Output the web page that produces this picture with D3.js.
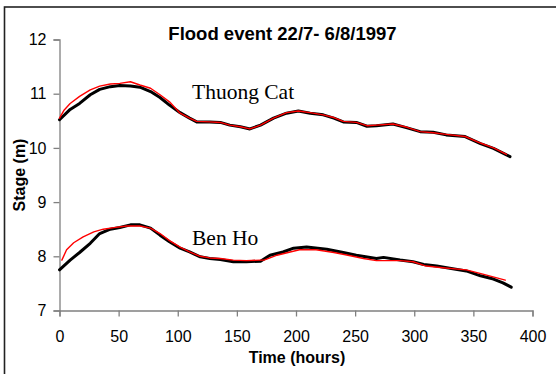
<!DOCTYPE html>
<html>
<head>
<meta charset="utf-8">
<script src="https://cdn.jsdelivr.net/npm/d3@7"></script>
<style>
  html, body { margin: 0; padding: 0; background: #fff; }
  svg { display: block; }
  text { font-family: Arial, "Liberation Sans", sans-serif; fill: #000; }
</style>
</head>
<body>
<div id="chart"></div>
<script>
// ---- data ----
const title = "Flood event 22/7- 6/8/1997";
const xTicks = [0, 50, 100, 150, 200, 250, 300, 350, 400];
const yTicks = [7, 8, 9, 10, 11, 12];
const stationLabels = ["Thuong Cat", "Ben Ho"];

const tcObsHours = [0,9,17,26,34,43,51,60,68,77,85,93,102,110,116,127,136,144,153,161,170,181,192,202,212,223,232,240,251,260,268,282,294,305,316,327,343,356,367,378,381];
const tcObserved = [10.52,10.71,10.82,10.98,11.08,11.13,11.15,11.14,11.12,11.04,10.93,10.79,10.65,10.55,10.48,10.48,10.47,10.42,10.39,10.35,10.42,10.55,10.64,10.68,10.64,10.61,10.55,10.48,10.47,10.40,10.41,10.44,10.37,10.30,10.29,10.24,10.21,10.08,9.99,9.87,9.84];

const tcSimHours = [0,4,9,17,26,34,43,51,60,68,77,85,93,102,110,116,127,136,144,153,161,170,181,192,202,212,223,232,240,251,260,268,282,294,305,316,327,343,356,367,378];
const tcSimulated = [10.55,10.70,10.82,10.95,11.07,11.14,11.18,11.19,11.22,11.16,11.10,10.98,10.85,10.64,10.55,10.49,10.48,10.47,10.42,10.39,10.35,10.42,10.55,10.65,10.68,10.65,10.61,10.56,10.49,10.47,10.41,10.42,10.44,10.38,10.30,10.28,10.25,10.21,10.09,10.00,9.88];

const bhObsHours = [0,9,17,26,34,43,51,60,68,77,85,93,102,110,119,127,136,147,158,170,178,189,198,209,226,240,251,268,274,288,299,308,319,330,344,356,367,375,382];
const bhObserved = [7.75,7.93,8.07,8.24,8.42,8.50,8.53,8.58,8.58,8.52,8.39,8.27,8.15,8.08,7.99,7.96,7.94,7.90,7.90,7.91,8.02,8.08,8.15,8.17,8.13,8.07,8.02,7.96,7.98,7.93,7.90,7.85,7.82,7.78,7.73,7.64,7.58,7.51,7.43];

const bhSimHours = [2,6,12,20,29,37,46,57,68,77,85,93,102,110,119,127,136,147,158,170,173,184,195,203,217,232,246,257,268,288,299,310,324,344,358,377];
const bhSimulated = [7.93,8.12,8.25,8.36,8.45,8.50,8.53,8.56,8.56,8.52,8.42,8.29,8.17,8.08,8.00,7.97,7.96,7.93,7.92,7.93,7.93,8.02,8.08,8.12,8.12,8.07,8.01,7.96,7.92,7.92,7.90,7.82,7.79,7.75,7.67,7.56];

// ---- layout ----
const W = 556, H = 374;
const svg = d3.select("#chart").append("svg").attr("width", W).attr("height", H);

svg.append("rect").attr("x", 4.5).attr("y", 7).attr("width", 580).attr("height", 400)
  .attr("fill", "none").attr("stroke", "#222").attr("stroke-width", 1.6);

const x = d3.scaleLinear().domain([0, 400]).range([59.5, 532.5]);
const y = d3.scaleLinear().domain([7, 12]).range([310.5, 39.5]);

const axisColor = "#808080";

const gx = svg.append("g").attr("transform", `translate(0,${y(7)})`)
  .call(d3.axisBottom(x).tickValues(xTicks).tickSize(6).tickPadding(14).tickFormat(d3.format("d")));
const gy = svg.append("g").attr("transform", `translate(${x(0)},0)`)
  .call(d3.axisLeft(y).tickValues(yTicks).tickSize(6).tickPadding(7).tickFormat(d3.format("d")));
[gx, gy].forEach(g => {
  g.select(".domain").attr("stroke", axisColor).attr("stroke-width", 1.3);
  g.selectAll(".tick line").attr("stroke", axisColor).attr("stroke-width", 1.3);
  g.selectAll(".tick text").attr("fill", "#000").style("font-size", "16px")
    .style("font-family", "Arial, 'Liberation Sans', sans-serif");
});

// series
const line = d3.line().x(d => x(d[0])).y(d => y(d[1]));
const zip = (a, b) => a.map((v, i) => [v, b[i]]);

const series = [
  { data: zip(tcObsHours, tcObserved), color: "#000", width: 3 },
  { data: zip(bhObsHours, bhObserved), color: "#000", width: 3 },
  { data: zip(tcSimHours, tcSimulated), color: "#ff0000", width: 1.4 },
  { data: zip(bhSimHours, bhSimulated), color: "#ff0000", width: 1.4 }
];
svg.append("g").selectAll("path").data(series).join("path")
  .attr("d", d => line(d.data))
  .attr("fill", "none")
  .attr("stroke", d => d.color)
  .attr("stroke-width", d => d.width)
  .attr("stroke-linejoin", "round")
  .attr("stroke-linecap", "round");

// titles
svg.append("text").attr("x", 282.5).attr("y", 40).attr("text-anchor", "middle")
  .style("font-size", "18.5px").style("font-weight", "bold").text(title);

svg.append("text").attr("x", x(200) + 1).attr("y", 363).attr("text-anchor", "middle")
  .style("font-size", "16px").style("font-weight", "bold").text("Time (hours)");

svg.append("text").attr("transform", `translate(24.5,${(y(7) + y(12)) / 2}) rotate(-90)`)
  .attr("text-anchor", "middle")
  .style("font-size", "16px").style("font-weight", "bold").text("Stage (m)");

// station labels
const labelPos = [[192, 98.5], [192, 245]];
svg.append("g").selectAll("text").data(stationLabels).join("text")
  .attr("x", (d, i) => labelPos[i][0]).attr("y", (d, i) => labelPos[i][1])
  .style("font-family", "'Times New Roman', 'Liberation Serif', serif")
  .style("font-size", "21.5px")
  .text(d => d);
</script>
</body>
</html>
